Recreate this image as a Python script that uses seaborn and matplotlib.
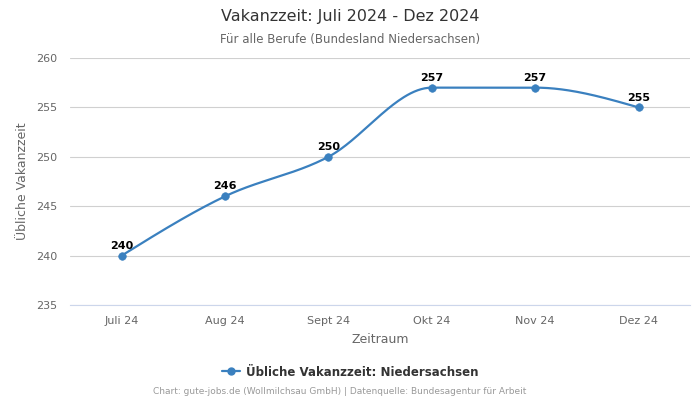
import numpy as np
import pandas as pd
import matplotlib
matplotlib.use("Agg")
import matplotlib.pyplot as plt
import seaborn as sns

categories = ["Juli 24", "Aug 24", "Sept 24", "Okt 24", "Nov 24", "Dez 24"]
values = [240, 246, 250, 257, 257, 255]
yticks = [235, 240, 245, 250, 255, 260]
series_name = "Übliche Vakanzzeit: Niedersachsen"

sns.set_theme(style="white")
plt.rcParams['font.family'] = ['DejaVu Sans']

color = "#3a80bf"

df = pd.DataFrame({"x": np.arange(len(categories)), "y": values})


def monotone_curve(x, y, n=60):
    x = np.asarray(x, float)
    y = np.asarray(y, float)
    m = len(x)
    s = np.diff(y) / np.diff(x)
    t = np.zeros(m)
    for i in range(1, m - 1):
        h0 = x[i] - x[i - 1]
        h1 = x[i + 1] - x[i]
        s0, s1 = s[i - 1], s[i]
        p = (s0 * h1 + s1 * h0) / (h0 + h1)
        t[i] = (np.sign(s0) + np.sign(s1)) * min(abs(s0), abs(s1), 0.5 * abs(p))
    t[0] = (3 * s[0] - t[1]) / 2
    t[-1] = (3 * s[-1] - t[-2]) / 2
    xs, ys = [], []
    for i in range(m - 1):
        h = x[i + 1] - x[i]
        u = np.linspace(0, 1, n)
        h00 = 2 * u**3 - 3 * u**2 + 1
        h10 = u**3 - 2 * u**2 + u
        h01 = -2 * u**3 + 3 * u**2
        h11 = u**3 - u**2
        xs.append(x[i] + u * h)
        ys.append(h00 * y[i] + h10 * h * t[i] + h01 * y[i + 1] + h11 * h * t[i + 1])
    return np.concatenate(xs), np.concatenate(ys)


cx, cy = monotone_curve(df["x"], df["y"])
curve = pd.DataFrame({"x": cx, "y": cy})

fig = plt.figure(figsize=(7, 4), dpi=100)
ax = fig.add_axes([0.1, 0.2375, 0.886, 0.6175])

sns.lineplot(data=curve, x="x", y="y", ax=ax, color=color, linewidth=1.6,
             estimator=None, sort=False)
sns.scatterplot(data=df, x="x", y="y", ax=ax, color=color, s=30,
                edgecolor=color, zorder=5)

for xi, yi in zip(df["x"], df["y"]):
    ax.annotate(str(yi), (xi, yi), xytext=(0, 3.5), textcoords="offset points",
                ha="center", va="bottom", fontsize=8, fontweight="bold",
                color="#000000")

ax.set_xlim(-0.5, len(categories) - 0.5)
ax.set_ylim(235, 260)
ax.set_yticks(yticks)
ax.set_yticklabels([str(v) for v in yticks])
ax.set_xticks(range(len(categories)))
ax.set_xticklabels(categories)
ax.tick_params(axis="both", labelsize=8, colors="#666666", length=0)
ax.tick_params(axis="x", pad=8)
ax.tick_params(axis="y", pad=9)
ax.grid(axis="y", color="#d0d0d0", linewidth=0.8)
ax.grid(axis="x", visible=False)
for sp in ["top", "right", "left"]:
    ax.spines[sp].set_visible(False)
ax.spines["bottom"].set_color("#ccd6eb")
ax.spines["bottom"].set_linewidth(0.8)

ax.set_xlabel("Zeitraum", fontsize=9, color="#666666", labelpad=5)
ax.set_ylabel("Übliche Vakanzzeit", fontsize=9, color="#666666", labelpad=5)

fig.text(0.5, 1 - 17 / 400, "Vakanzzeit: Juli 2024 - Dez 2024", ha="center",
         va="center", fontsize=11.5, color="#333333")
fig.text(0.5, 1 - 39 / 400, "Für alle Berufe (Bundesland Niedersachsen)",
         ha="center", va="center", fontsize=8.5, color="#666666")

from matplotlib.lines import Line2D
handle = Line2D([0], [0], color=color, marker="o", markersize=5, linewidth=1.6)
fig.legend([handle], [series_name], loc="center", bbox_to_anchor=(0.5, 1 - 372 / 400),
           frameon=False, handlelength=1.5, handletextpad=0.5,
           prop={"size": 8.5, "weight": "bold"}, labelcolor="#333333")

fig.text(340 / 700, 1 - 392 / 400,
         "Chart: gute-jobs.de (Wollmilchsau GmbH) | Datenquelle: Bundesagentur für Arbeit",
         ha="center", va="center", fontsize=6.5, color="#999999")

fig.savefig("out.png", dpi=100)
